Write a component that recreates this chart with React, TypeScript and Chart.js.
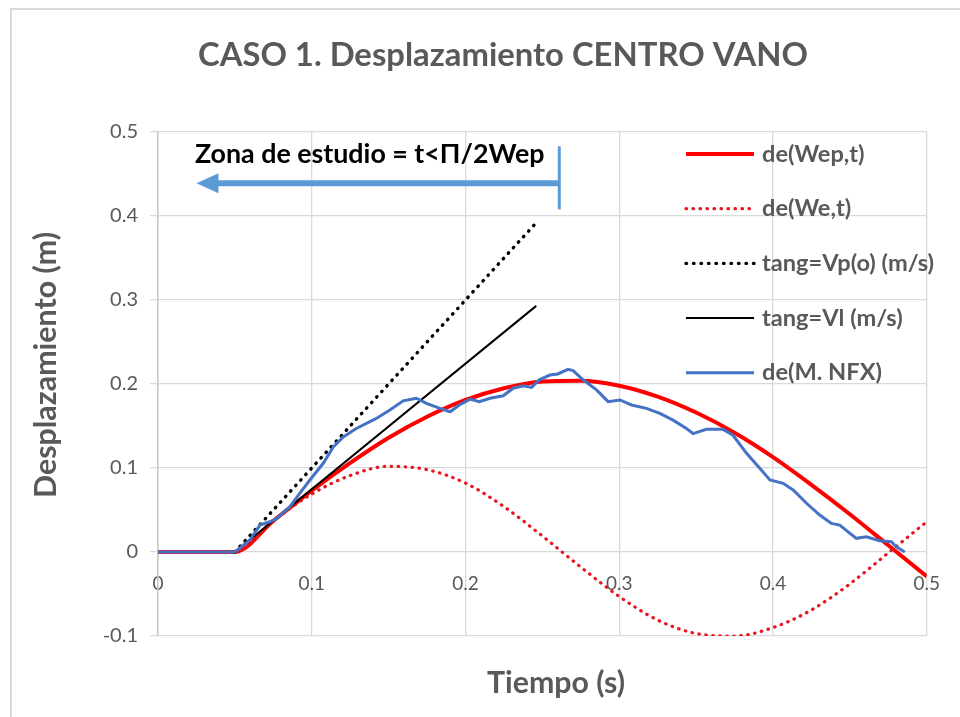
import React, { useEffect, useRef } from "react";
import { Chart, registerables } from "chart.js";

Chart.register(...registerables);

const TITLE = "CASO 1. Desplazamiento CENTRO VANO";
const X_TITLE = "Tiempo (s)";
const Y_TITLE = "Desplazamiento (m)";
const NOTE = "Zona de estudio = t<Π/2Wep";

const seriesLabels = ["de(Wep,t)", "de(We,t)", "tang=Vp(o) (m/s)", "tang=Vl (m/s)", "de(M. NFX)"];

// time samples for the analytic curves (s)
const curveT = [0, 0.025, 0.05, 0.075, 0.1, 0.125, 0.15, 0.175, 0.2, 0.225, 0.25, 0.275, 0.3, 0.325, 0.35, 0.375, 0.4, 0.425, 0.45, 0.475, 0.5];
const wepY = [0, 0, 0, 0.037, 0.073, 0.106, 0.136, 0.161, 0.181, 0.195, 0.203, 0.204, 0.198, 0.185, 0.166, 0.142, 0.113, 0.080, 0.045, 0.008, -0.029];
const weY = [0, 0, 0, 0.037, 0.069, 0.091, 0.102, 0.098, 0.082, 0.054, 0.019, -0.018, -0.053, -0.081, -0.097, -0.1, -0.09, -0.069, -0.038, -0.001, 0.036];

// tangents
const tangVpT = [0.05, 0.245];
const tangVpY = [0, 0.39];
const tangVlT = [0.05, 0.246];
const tangVlY = [0, 0.293];

// measured displacement
const nfxT = [0, 0.05, 0.0598, 0.0663, 0.0728, 0.0772, 0.0858, 0.0923, 0.0988, 0.1075, 0.114, 0.1205, 0.129, 0.142, 0.1508, 0.1595, 0.168, 0.1746, 0.1834, 0.19, 0.196, 0.203, 0.209, 0.216, 0.2245, 0.231, 0.2375, 0.243, 0.248, 0.2549, 0.26, 0.2667, 0.27, 0.2765, 0.2852, 0.2928, 0.3004, 0.308, 0.3177, 0.3264, 0.335, 0.3437, 0.348, 0.3567, 0.3676, 0.374, 0.3828, 0.3914, 0.398, 0.4066, 0.4131, 0.4218, 0.4304, 0.438, 0.4434, 0.4542, 0.4607, 0.4694, 0.477, 0.4802, 0.4857];
const nfxY = [0, 0, 0.0143, 0.032, 0.036, 0.04, 0.054, 0.07, 0.0857, 0.1056, 0.125, 0.137, 0.147, 0.159, 0.169, 0.18, 0.183, 0.177, 0.171, 0.167, 0.175, 0.182, 0.179, 0.183, 0.186, 0.195, 0.198, 0.196, 0.205, 0.2107, 0.212, 0.2175, 0.216, 0.205, 0.193, 0.179, 0.181, 0.175, 0.171, 0.165, 0.157, 0.147, 0.141, 0.146, 0.146, 0.139, 0.1175, 0.0996, 0.0857, 0.0818, 0.0738, 0.058, 0.044, 0.034, 0.032, 0.0163, 0.018, 0.0135, 0.0123, 0.0063, 0];

// axes
const X_MIN = 0, X_MAX = 0.5, X_STEP = 0.1;
const Y_MIN = -0.1, Y_MAX = 0.5, Y_STEP = 0.1;

// annotation (data units)
const ZONE_T = 0.261;
const ARROW_TIP_T = 0.025;
const ARROW_Y = 0.439;
const ZONE_TOP = 0.483;
const ZONE_BOTTOM = 0.408;
const NOTE_T = 0.024;
const NOTE_Y = 0.473;

const FONT = "Lato, 'Open Sans', sans-serif";
const GREY = "#595959";

const pts = (t: number[], y: number[]) => t.map((x, i) => ({ x, y: y[i] }));

function fitFont(ctx: CanvasRenderingContext2D, text: string, weight: string, width: number) {
  ctx.font = `${weight} 100px ${FONT}`;
  const w = ctx.measureText(text).width;
  return `${weight} ${((100 * width) / w).toFixed(1)}px ${FONT}`;
}

const decorPlugin = {
  id: "decor",
  beforeDraw(chart: any) {
    const ctx = chart.ctx as CanvasRenderingContext2D;
    ctx.save();
    ctx.fillStyle = "#ffffff";
    ctx.fillRect(0, 0, chart.width, chart.height);
    ctx.strokeStyle = "#D9D9D9";
    ctx.lineWidth = 2;
    ctx.beginPath();
    ctx.moveTo(11, chart.height);
    ctx.lineTo(11, 9);
    ctx.lineTo(chart.width, 9);
    ctx.stroke();
    ctx.restore();
  },
  afterDraw(chart: any) {
    const ctx = chart.ctx as CanvasRenderingContext2D;
    const xs = chart.scales.x;
    const ys = chart.scales.y;
    ctx.save();
    // chart title
    ctx.fillStyle = GREY;
    ctx.textAlign = "center";
    ctx.textBaseline = "middle";
    ctx.font = fitFont(ctx, TITLE, "bold", 610);
    ctx.fillText(TITLE, 503, 55);
    // x title
    ctx.font = fitFont(ctx, X_TITLE, "bold", 138);
    ctx.fillText(X_TITLE, 556, 683);
    // y title
    ctx.save();
    ctx.translate(46, 365);
    ctx.rotate(-Math.PI / 2);
    ctx.font = fitFont(ctx, Y_TITLE, "bold", 266);
    ctx.fillText(Y_TITLE, 0, 0);
    ctx.restore();

    // legend
    const legFont = fitFont(ctx, seriesLabels[2], "bold", 172);
    chart.data.datasets.forEach((ds: any, i: number) => {
      const y = 154 + i * 54.7;
      ctx.save();
      ctx.strokeStyle = ds.borderColor;
      ctx.lineWidth = ds.borderWidth;
      ctx.lineCap = ds.borderCapStyle || "butt";
      ctx.setLineDash(ds.borderDash || []);
      ctx.beginPath();
      ctx.moveTo(686, y);
      ctx.lineTo(754, y);
      ctx.stroke();
      ctx.restore();
      ctx.font = legFont;
      ctx.fillStyle = GREY;
      ctx.textAlign = "left";
      ctx.textBaseline = "middle";
      ctx.fillText(ds.label, 762, y);
    });

    // annotation
    const blue = "#5B9BD5";
    const xz = xs.getPixelForValue(ZONE_T);
    const xt = xs.getPixelForValue(ARROW_TIP_T);
    const ya = ys.getPixelForValue(ARROW_Y);
    ctx.strokeStyle = blue;
    ctx.lineWidth = 3;
    ctx.beginPath();
    ctx.moveTo(xz, ys.getPixelForValue(ZONE_TOP));
    ctx.lineTo(xz, ys.getPixelForValue(ZONE_BOTTOM));
    ctx.stroke();
    ctx.lineWidth = 6;
    ctx.beginPath();
    ctx.moveTo(xz, ya);
    ctx.lineTo(xt + 18, ya);
    ctx.stroke();
    ctx.fillStyle = blue;
    ctx.beginPath();
    ctx.moveTo(xt, ya);
    ctx.lineTo(xt + 22, ya - 10);
    ctx.lineTo(xt + 22, ya + 10);
    ctx.closePath();
    ctx.fill();

    ctx.fillStyle = "#000000";
    ctx.textAlign = "left";
    ctx.textBaseline = "middle";
    ctx.font = fitFont(ctx, NOTE, "bold", 350);
    ctx.fillText(NOTE, xs.getPixelForValue(NOTE_T), ys.getPixelForValue(NOTE_Y));
    ctx.restore();
  },
};

export default function App() {
  const ref = useRef<HTMLCanvasElement | null>(null);
  useEffect(() => {
    if (!ref.current) return;
    const chart = new Chart(ref.current, {
      type: "line",
      data: {
        datasets: [
          {
            label: seriesLabels[0],
            data: pts(curveT, wepY),
            borderColor: "#FF0000",
            borderWidth: 4,
            cubicInterpolationMode: "monotone",
            pointRadius: 0,
            order: 4,
          },
          {
            label: seriesLabels[1],
            data: pts(curveT, weY),
            borderColor: "#E8141E",
            borderWidth: 3.2,
            borderDash: [0.5, 6.5],
            borderCapStyle: "round",
            cubicInterpolationMode: "monotone",
            pointRadius: 0,
            order: 3,
          },
          {
            label: seriesLabels[2],
            data: pts(tangVpT, tangVpY),
            borderColor: "#000000",
            borderWidth: 3.4,
            borderDash: [0.5, 7],
            borderCapStyle: "round",
            pointRadius: 0,
            order: 2,
          },
          {
            label: seriesLabels[3],
            data: pts(tangVlT, tangVlY),
            borderColor: "#000000",
            borderWidth: 2,
            pointRadius: 0,
            order: 1,
          },
          {
            label: seriesLabels[4],
            data: pts(nfxT, nfxY),
            borderColor: "#4472C4",
            borderWidth: 3,
            pointRadius: 0,
            tension: 0,
            order: 0,
          },
        ] as any,
      },
      options: {
        animation: false,
        responsive: false,
        maintainAspectRatio: false,
        layout: { padding: { left: 0, top: 132, right: 33, bottom: 81 } },
        plugins: { legend: { display: false }, tooltip: { enabled: false }, title: { display: false } },
        scales: {
          x: {
            type: "linear",
            position: { y: 0 } as any,
            min: X_MIN,
            max: X_MAX,
            ticks: {
              stepSize: X_STEP,
              padding: 20,
              color: GREY,
              font: { family: FONT, size: 19 },
              callback: (v: any) => String(Number(Number(v).toFixed(1))),
            },
            grid: { color: "#D9D9D9", lineWidth: 1.3, drawTicks: false },
            border: { display: false },
          },
          y: {
            type: "linear",
            min: Y_MIN,
            max: Y_MAX,
            afterFit: (scale: any) => {
              scale.width = 158;
            },
            ticks: {
              stepSize: Y_STEP,
              padding: 12,
              color: GREY,
              font: { family: FONT, size: 20 },
              callback: (v: any) => String(Number(Number(v).toFixed(1))),
            },
            grid: { color: "#D9D9D9", lineWidth: 1.3, drawTicks: true, tickLength: 8 },
            border: { display: true, color: "#C8C8C8", width: 1.5 },
          },
        },
      } as any,
      plugins: [decorPlugin],
    });
    return () => chart.destroy();
  }, []);
  return (
    <div style={{ position: "absolute", left: 0, top: 0, width: 960, height: 717 }}>
      <canvas ref={ref} width={960} height={717} style={{ display: "block" }} />
    </div>
  );
}
